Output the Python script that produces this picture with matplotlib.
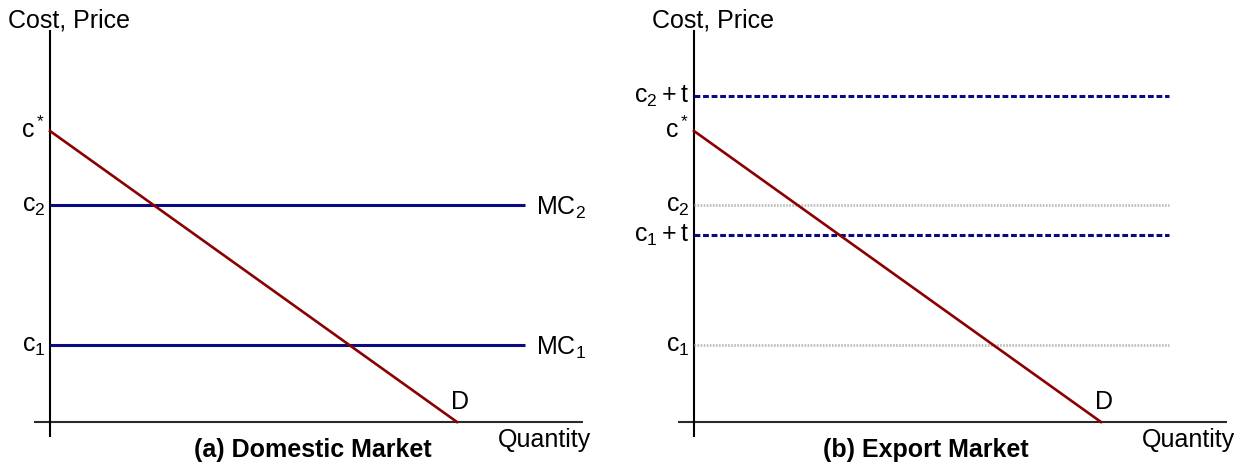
import matplotlib
matplotlib.use("Agg")
import matplotlib.pyplot as plt

plt.rcParams['font.family'] = ['Liberation Sans', 'DejaVu Sans']
plt.rcParams['mathtext.fontset'] = 'custom'
plt.rcParams['mathtext.rm'] = 'Liberation Sans'
plt.rcParams['mathtext.it'] = 'Liberation Sans'
plt.rcParams['mathtext.bf'] = 'Liberation Sans:bold'

# price levels (c* = 10)
c_star = 10.0
c2 = 7.46
c1 = 2.65
c2_t = 11.2
c1_t = 6.43

# demand curve
demand_q = [0, 10]
demand_p = [c_star, 0]

mc_end = 11.67       # where the horizontal lines stop
q_axis = [-0.39, 13.1]
p_axis = [-0.52, 13.47]

titles = ['(a) Domestic Market', '(b) Export Market']
title_q = [6.46, 5.7]

RED = '#8B0000'
NAVY = '#0A0A85'
GREY = '#BDBDBD'
AXC = '#2A2A2A'
FS = 18

fig = plt.figure(figsize=(12.45, 4.74), dpi=100)

W, H = 1245.0, 474.0
px_q, px_p = 40.7, 29.1


def make_ax(x0, x1, origin_x):
    ax = fig.add_axes([x0 / W, 0, (x1 - x0) / W, 1])
    ax.set_xlim((x0 - origin_x) / px_q, (x1 - origin_x) / px_q)
    ax.set_ylim((422 - H) / px_p, 422 / px_p)
    ax.axis('off')
    ax.plot(q_axis, [0, 0], color=AXC, lw=1.5, solid_capstyle='butt')
    ax.plot([0, 0], p_axis, color='black', lw=1.5, solid_capstyle='butt')
    ax.text(-1.03, 13.57, 'Cost, Price', fontsize=FS, ha='left', va='baseline')
    ax.text(13.3, -0.86, 'Quantity', fontsize=FS, ha='right', va='baseline')
    ax.plot(demand_q, demand_p, color=RED, lw=1.9, zorder=3)
    ax.annotate('D', (demand_q[1], demand_p[1]), xytext=(-4, 9.5),
                textcoords='offset points', fontsize=FS, ha='left', va='baseline')
    return ax


def ylabel(ax, p, s):
    ax.annotate(s, (0, p), xytext=(-3.5, -4.8), textcoords='offset points',
                fontsize=FS, ha='right', va='baseline')


# (a) domestic market
axa = make_ax(0, 622, 50)
for p, lab, mc in [(c2, r'$\mathrm{c}_2$', r'$\mathrm{MC}_2$'),
                   (c1, r'$\mathrm{c}_1$', r'$\mathrm{MC}_1$')]:
    axa.plot([0, mc_end], [p, p], color=NAVY, lw=2.2, solid_capstyle='butt')
    ylabel(axa, p, lab)
    axa.annotate(mc, (mc_end, p), xytext=(8, -7.2), textcoords='offset points',
                 fontsize=FS, ha='left', va='baseline')
ylabel(axa, c_star, r'$\mathrm{c}^*$')
axa.text(title_q[0], -1.2, titles[0], fontsize=18, fontweight='bold',
         ha='center', va='baseline')

# (b) export market
axb = make_ax(644, 1245, 694)
for p, lab in [(c2, r'$\mathrm{c}_2$'), (c1, r'$\mathrm{c}_1$')]:
    axb.plot([0, mc_end], [p, p], color=GREY, lw=2, dashes=(0.6, 0.5))
    ylabel(axb, p, lab)
for p, lab in [(c2_t, r'$\mathrm{c}_2+\mathrm{t}$'),
               (c1_t, r'$\mathrm{c}_1+\mathrm{t}$')]:
    axb.plot([0, mc_end], [p, p], color=NAVY, lw=2.2, dashes=(1.9, 0.9))
    ylabel(axb, p, lab)
ylabel(axb, c_star, r'$\mathrm{c}^*$')
axb.text(title_q[1], -1.2, titles[1], fontsize=18, fontweight='bold',
         ha='center', va='baseline')

fig.savefig('out.png', dpi=100)
